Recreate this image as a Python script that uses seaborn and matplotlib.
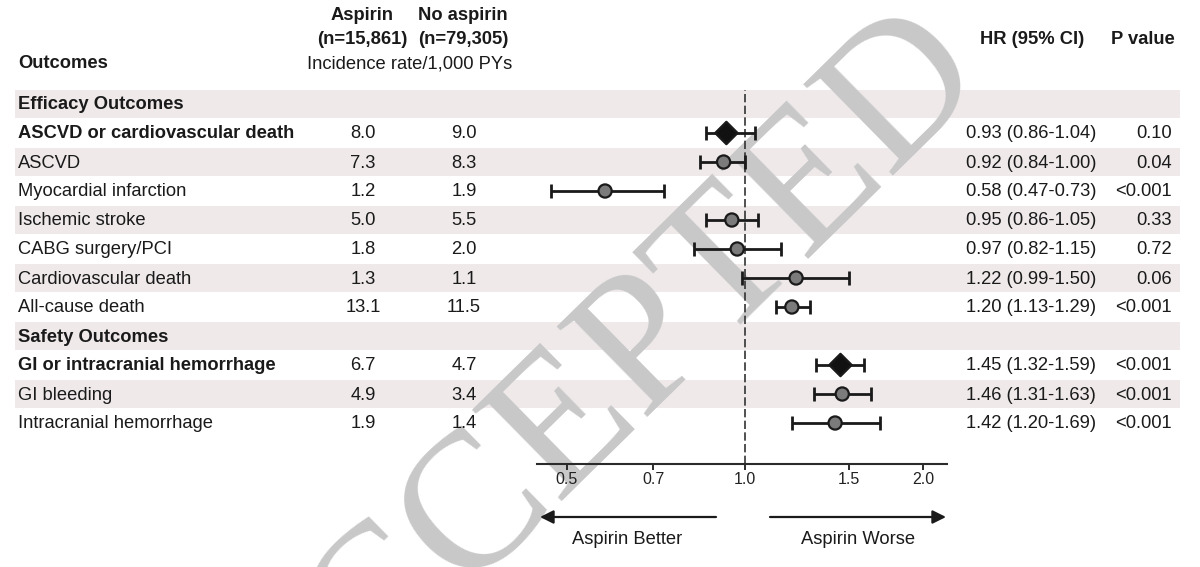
import numpy as np
import pandas as pd
import matplotlib
matplotlib.use("Agg")
import matplotlib.pyplot as plt
from matplotlib.patches import Rectangle
from matplotlib.ticker import NullLocator
import seaborn as sns

sns.set_theme(style="white")
plt.rcParams['font.family'] = ['Liberation Sans', 'DejaVu Sans']

# ---- data ----
outcomes = ["Efficacy Outcomes", "ASCVD or cardiovascular death", "ASCVD",
            "Myocardial infarction", "Ischemic stroke", "CABG surgery/PCI",
            "Cardiovascular death", "All-cause death", "Safety Outcomes",
            "GI or intracranial hemorrhage", "GI bleeding", "Intracranial hemorrhage"]
row_kind = ["header", "primary", "sub", "sub", "sub", "sub", "sub", "sub",
            "header", "primary", "sub", "sub"]
aspirin_rate = [np.nan, 8.0, 7.3, 1.2, 5.0, 1.8, 1.3, 13.1, np.nan, 6.7, 4.9, 1.9]
no_aspirin_rate = [np.nan, 9.0, 8.3, 1.9, 5.5, 2.0, 1.1, 11.5, np.nan, 4.7, 3.4, 1.4]
hr = [np.nan, 0.93, 0.92, 0.58, 0.95, 0.97, 1.22, 1.20, np.nan, 1.45, 1.46, 1.42]
ci_low = [np.nan, 0.86, 0.84, 0.47, 0.86, 0.82, 0.99, 1.13, np.nan, 1.32, 1.31, 1.20]
ci_high = [np.nan, 1.04, 1.00, 0.73, 1.05, 1.15, 1.50, 1.29, np.nan, 1.59, 1.63, 1.69]
p_values = ["", "0.10", "0.04", "<0.001", "0.33", "0.72", "0.06", "<0.001",
            "", "<0.001", "<0.001", "<0.001"]
x_ticks = [0.5, 0.7, 1.0, 1.5, 2.0]
x_ticklabels = ["0.5", "0.7", "1.0", "1.5", "2.0"]

df = pd.DataFrame({"outcome": outcomes, "kind": row_kind, "aspirin": aspirin_rate,
                   "no_aspirin": no_aspirin_rate, "hr": hr, "lo": ci_low,
                   "hi": ci_high, "p": p_values})
df["row"] = np.arange(len(df))

# ---- layout (pixels of a 1200x567 canvas) ----
W, H = 1200, 567
def fx(x):
    return x / W
def fy(y):
    return 1 - y / H

row_y0, row_step = 104, 29
row_px = [row_y0 + i * row_step for i in df.row]
txt = '#1a1a1a'
fs = 13.2

fig = plt.figure(figsize=(12, 5.67), dpi=100)

# background: stripes + watermark
bg = fig.add_axes([0, 0, 1, 1], zorder=-1)
bg.set_xlim(0, W)
bg.set_ylim(H, 0)
bg.axis('off')
for i, y in enumerate(row_px):
    if i % 2 == 0:
        bg.add_patch(Rectangle((15, y - 14), 1165, 28, color='#efe9ea', lw=0))
bg.text(598, 398, "ACCEPTED", rotation=44.5, ha='center', va='center',
        fontsize=140, family='Liberation Serif', color='#c8c8c8')

# forest plot
ax_top, ax_bot, ax_left, ax_right = 90, 464, 537, 947
ax = fig.add_axes([fx(ax_left), fy(ax_bot), (ax_right - ax_left) / W, (ax_bot - ax_top) / H])
ax.set_facecolor('none')
ax.set_xscale('log')
ax.axvline(1.0, color='#333333', lw=1.2, ls=(0, (5, 2)), zorder=1)

pts = df.dropna(subset=["hr"])
ax.errorbar(pts.hr, pts.row, xerr=[pts.hr - pts.lo, pts.hi - pts.hr], fmt='none',
            ecolor='#1a1a1a', elinewidth=2, capsize=5, capthick=2, zorder=2)
sns.scatterplot(data=pts, x="hr", y="row", hue="kind", style="kind", size="kind",
                palette={"primary": "#111111", "sub": "#7b7b7b"},
                markers={"primary": "D", "sub": "o"},
                sizes={"primary": 130, "sub": 90},
                edgecolor='#1a1a1a', linewidth=1.6, legend=False, zorder=3, ax=ax)
ax.set_xlim(0.445, 2.195)
ax.set_ylim((ax_bot - row_y0) / row_step, (ax_top - row_y0) / row_step)

ax.set_xticks(x_ticks)
ax.set_xticklabels(x_ticklabels)
ax.xaxis.set_minor_locator(NullLocator())
ax.set_yticks([])
ax.set_xlabel("")
ax.set_ylabel("")
ax.tick_params(axis='x', bottom=True, direction='out', length=4, width=1.4,
               color='#2b2b2b', labelsize=11.5, labelcolor='#222222', pad=2)
sns.despine(ax=ax, left=True)
ax.spines['bottom'].set_color('#2b2b2b')
ax.spines['bottom'].set_linewidth(1.5)

# direction arrows
arrow_kw = dict(arrowstyle='-|>', color='#1a1a1a', lw=1.6, mutation_scale=20,
                shrinkA=0, shrinkB=0)
ax.annotate("", xy=(fx(540), fy(517)), xytext=(fx(716), fy(517)),
            xycoords='figure fraction', arrowprops=arrow_kw)
ax.annotate("", xy=(fx(946), fy(517)), xytext=(fx(770), fy(517)),
            xycoords='figure fraction', arrowprops=arrow_kw)
fig.text(fx(627), fy(540), "Aspirin Better", ha='center', va='center', fontsize=fs, color=txt)
fig.text(fx(858), fy(540), "Aspirin Worse", ha='center', va='center', fontsize=fs, color=txt)

# column headers
hdr = dict(ha='center', va='center', fontsize=fs, color=txt, fontweight='bold')
fig.text(fx(18), fy(64), "Outcomes", ha='left', va='center', fontsize=fs,
         color=txt, fontweight='bold')
fig.text(fx(362), fy(15), "Aspirin", **hdr)
fig.text(fx(362), fy(40), "(n=15,861)", **hdr)
fig.text(fx(463), fy(15), "No aspirin", **hdr)
fig.text(fx(463), fy(40), "(n=79,305)", **hdr)
fig.text(fx(410), fy(64), "Incidence rate/1,000 PYs", ha='center', va='center',
         fontsize=fs, color=txt)
fig.text(fx(1032), fy(40), "HR (95% CI)", **hdr)
fig.text(fx(1175), fy(40), "P value", ha='right', va='center', fontsize=fs,
         color=txt, fontweight='bold')

# table rows
for _, r in df.iterrows():
    y = fy(row_px[r.row] + 1)
    bold = r.kind in ("header", "primary")
    fig.text(fx(18), y, r.outcome, ha='left', va='center', fontsize=fs, color=txt,
             fontweight='bold' if bold else 'normal')
    if r.kind == "header":
        continue
    fig.text(fx(363), y, f"{r.aspirin:.1f}", ha='center', va='center', fontsize=fs, color=txt)
    fig.text(fx(464), y, f"{r.no_aspirin:.1f}", ha='center', va='center', fontsize=fs, color=txt)
    fig.text(fx(1031), y, f"{r.hr:.2f} ({r.lo:.2f}-{r.hi:.2f})", ha='center',
             va='center', fontsize=fs, color=txt)
    fig.text(fx(1172), y, r.p, ha='right', va='center', fontsize=fs, color=txt)

fig.savefig("out.png", dpi=100)
